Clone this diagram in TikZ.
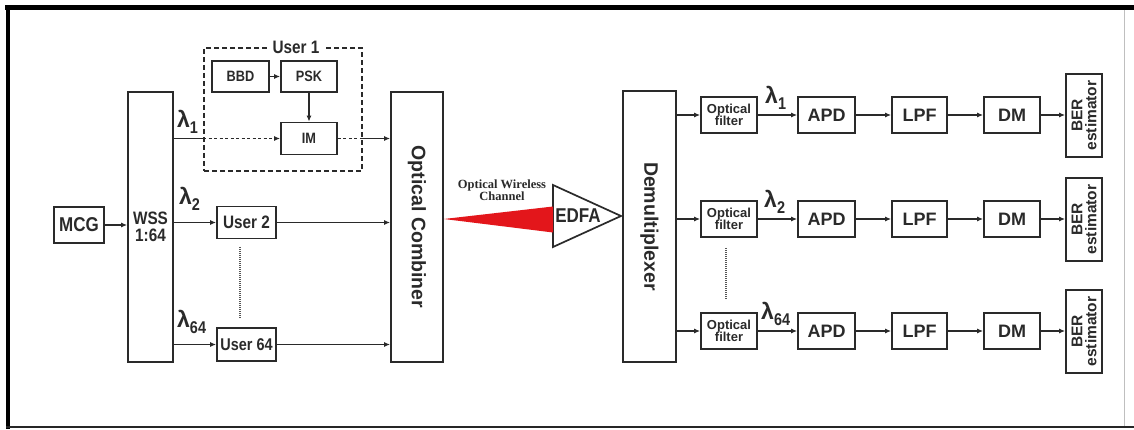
\documentclass[tikz,border=0pt]{standalone}
\usepackage{fontspec}
\setmainfont{Liberation Sans}
\newfontfamily\condf[FakeStretch=0.85]{Liberation Sans}
\newfontfamily\serf{Liberation Serif}
\usetikzlibrary{arrows.meta}
\definecolor{ink}{HTML}{2A2A2A}
\definecolor{beam}{HTML}{E3161B}
\tikzset{
  box/.style={draw=ink, line width=1.7pt, rectangle, inner sep=0pt, text=ink, align=center},
  arr/.style={draw=ink, line width=1.4pt, -{Latex[length=6pt,width=5pt]}},
  ln/.style={draw=ink, line width=1.4pt},
  dotln/.style={draw=ink, line width=1.4pt, dash pattern=on 3pt off 2.5pt},
  condlab/.style={font=\condf\bfseries\fontsize{18}{20}\selectfont},
  rlab/.style={font=\bfseries\fontsize{18}{20}\selectfont},
  lam/.style={inner sep=0pt, text=ink, anchor=south west}
}
\newcommand{\lamsub}[1]{{\fontsize{23}{23}\selectfont\bfseries λ}\raisebox{-6pt}{\condf\bfseries\fontsize{17}{17}\selectfont #1}}
\begin{document}
\begin{tikzpicture}[x=1pt,y=-1pt]
\useasboundingbox (0,0) rectangle (1134,430);
\fill[white] (0,0) rectangle (1134,430);
% frame
\draw[line width=5pt, black] (5,8) -- (1134,8);
\draw[line width=4.5pt, black] (8,6) -- (8,429);
\draw[line width=2.5pt, black!85] (6,427) -- (1134,427);
\draw[line width=0.8pt, black!25] (1124,10) -- (1124,426);

% left section
\node[box, condlab, minimum width=50pt, minimum height=36pt] (mcg) at (79,225) {\fontsize{20}{20}\selectfont MCG};
\node[box, condlab, minimum width=45pt, minimum height=270pt] (wss) at (150.5,227) {WSS\\[-3pt]1:64};
\node[draw=ink, line width=1.7pt, dash pattern=on 5pt off 3pt, minimum width=158pt, minimum height=123pt, inner sep=0pt] (u1) at (283,109.5) {};
\node[fill=white, condlab, text=ink, inner xsep=6pt, inner ysep=2pt] (u1lab) at (296,47) {User 1};
\node[box, condlab, minimum width=57pt, minimum height=31pt] (bbd) at (240.5,76.5) {\fontsize{15}{15}\selectfont BBD};
\node[box, condlab, minimum width=56pt, minimum height=31pt] (psk) at (309,76.5) {\fontsize{15}{15}\selectfont PSK};
\node[box, condlab, minimum width=56pt, minimum height=32pt] (im) at (309,138.5) {\fontsize{15}{15}\selectfont IM};
\node[box, condlab, minimum width=59pt, minimum height=32pt] (user2) at (246.5,222.5) {User 2};
\node[box, condlab, minimum width=59pt, minimum height=33pt] (user64) at (246.5,344.5) {\fontsize{17}{17}\selectfont User 64};
\node[box, minimum width=52pt, minimum height=270pt] (comb) at (417,227) {};
\node[rotate=-90, rlab, text=ink, font=\bfseries\fontsize{19.5}{20}\selectfont] (combl) at (comb.center) {Optical Combiner};

% left connectors
\draw[arr] (mcg.east) -- (mcg.east -| wss.west);
\draw[arr] (bbd.east) -- (psk.west);
\draw[arr] (psk.south) -- (im.north);
\coordinate (l1a) at (wss.east |- im.west);
\coordinate (l1b) at (u1.west |- im.west);
\coordinate (l1c) at (im.east -| u1.east);
\draw[ln] (l1a) -- (l1b);
\draw[dotln, -{Latex[length=6pt,width=5pt]}] (l1b) -- (im.west);
\draw[dotln] (im.east) -- (l1c);
\draw[arr] (l1c) -- (l1c -| comb.west);
\draw[arr] (wss.east |- user2.west) -- (user2.west);
\draw[arr] (user2.east) -- (user2.east -| comb.west);
\draw[arr] (wss.east |- user64.west) -- (user64.west);
\draw[arr] (user64.east) -- (user64.east -| comb.west);
\draw[draw=ink!80, line width=1.2pt, dash pattern=on 1pt off 1pt] (240,247) -- (240,318);
\node[lam] (lam1) at (177,134) {\lamsub{1}};
\node[lam] (lam2) at (179,211) {\lamsub{2}};
\node[lam] (lam64) at (177,334) {\lamsub{64}};

% channel and EDFA
\coordinate (et) at (553,185);
\coordinate (eb) at (553,247);
\coordinate (ea) at (621,216);
\draw[draw=ink, line width=1.7pt, line join=miter] (et) -- (ea) -- (eb) -- cycle;
\fill[beam] (comb.east |- 0,219) -- (553,206.5) -- (553,232.5) -- cycle;
\node[condlab, text=ink, font=\condf\bfseries\fontsize{20}{20}\selectfont] (edfa) at (578,216) {EDFA};
\node[text=ink, font=\serf\bfseries\fontsize{12.5}{12}\selectfont, align=center, inner sep=0pt] (owc) at (502,190) {Optical Wireless\\Channel};

% demux
\node[box, minimum width=53pt, minimum height=271pt] (demux) at (649.5,226.5) {};
\node[rotate=-90, text=ink, font=\bfseries\fontsize{19.5}{20}\selectfont] (demuxl) at (demux.center) {Demultiplexer};

% right rows
\foreach \r/\y in {a/115, b/219, c/331} {
  \node[box, minimum width=56pt, minimum height=36pt, font=\bfseries\fontsize{13}{13}\selectfont] (of\r) at (729,\y) {Optical\\[-1pt]filter};
  \node[box, rlab, minimum width=57pt, minimum height=36pt] (apd\r) at (826.5,\y) {APD};
  \node[box, rlab, minimum width=55pt, minimum height=36pt] (lpf\r) at (919.5,\y) {LPF};
  \node[box, rlab, minimum width=56pt, minimum height=36pt] (dm\r) at (1012,\y) {DM};
  \node[box, minimum width=36pt, minimum height=83pt] (ber\r) at (1084,\y+0.5) {};
  \node[rotate=90, text=ink, align=center, font=\bfseries\fontsize{15.5}{14}\selectfont] (berl\r) at (ber\r.center) {BER\\estimator};
  \draw[arr] (demux.east |- of\r.west) -- (of\r.west);
  \draw[arr] (of\r.east) -- (apd\r.west);
  \draw[arr] (apd\r.east) -- (lpf\r.west);
  \draw[arr] (lpf\r.east) -- (dm\r.west);
  \draw[arr] (dm\r.east) -- (dm\r.east -| ber\r.west);
}
\node[lam] (rlam1) at (765,110) {\lamsub{1}};
\node[lam] (rlam2) at (764,214) {\lamsub{2}};
\node[lam] (rlam64) at (761,326) {\lamsub{64}};
\draw[draw=ink!80, line width=1.2pt, dash pattern=on 1pt off 1pt] (726,248) -- (726,300);
\end{tikzpicture}
\end{document}
